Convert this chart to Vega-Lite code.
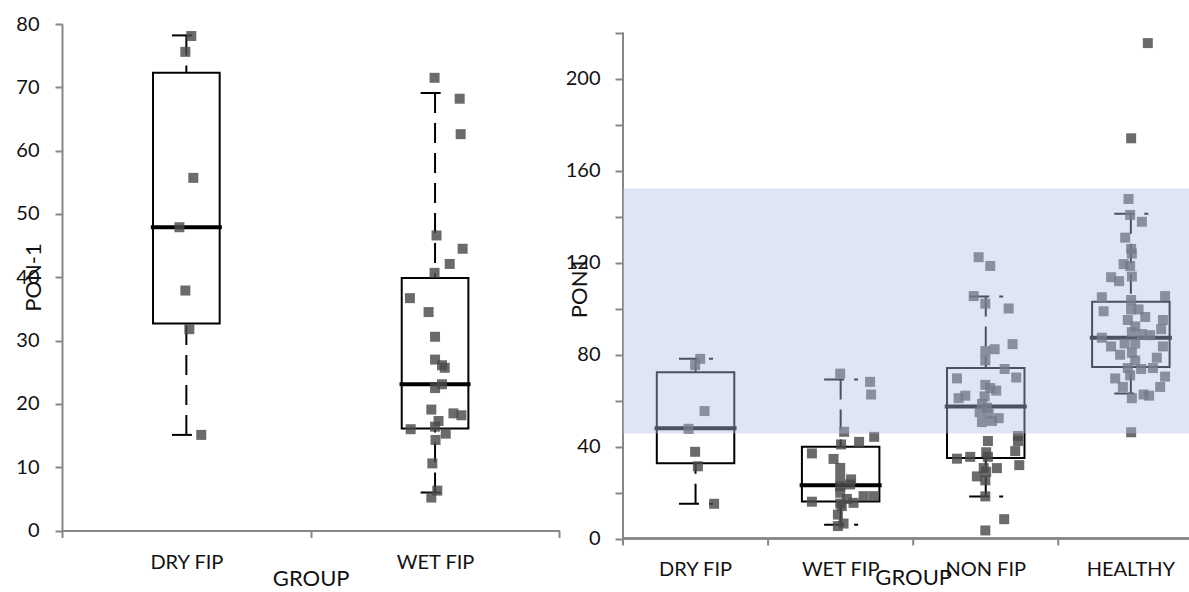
{
  "$schema": "https://vega.github.io/schema/vega-lite/v6.json",
  "padding": {"left": 15, "top": 14, "right": 0, "bottom": 0},
  "spacing": 5,
  "resolve": {"scale": {"x": "independent", "y": "independent", "xOffset": "independent"}},
  "config": {
    "font": "Lato",
    "view": {"stroke": null},
    "axis": {
      "labelFont": "Lato", "titleFont": "Lato",
      "labelFontSize": 20, "titleFontSize": 22,
      "labelColor": "#111111", "titleColor": "#111111",
      "titleFontWeight": "normal",
      "domainColor": "#878787", "tickColor": "#878787",
      "domainWidth": 2, "tickWidth": 2, "grid": false
    }
  },
  "datasets": {
    "boxes": [
      {"GROUP": "DRY FIP", "lower": 15.1, "q1": 32.7, "median": 47.9, "q3": 72.3, "upper": 78.2},
      {"GROUP": "WET FIP", "lower": 6.0, "q1": 16.1, "median": 23.1, "q3": 39.9, "upper": 69.1},
      {"GROUP": "NON FIP", "lower": 18.3, "q1": 35.0, "median": 57.4, "q3": 74.1, "upper": 105.2},
      {"GROUP": "HEALTHY", "lower": 63.0, "q1": 74.6, "median": 87.3, "q3": 102.9, "upper": 141.2}
    ],
    "refRange": [{"lower": 45.6, "upper": 152.2}],
    "pon1Fip": [
      {"GROUP": "DRY FIP", "PON": 78.1, "jit": 0.020},
      {"GROUP": "DRY FIP", "PON": 75.6, "jit": -0.004},
      {"GROUP": "DRY FIP", "PON": 55.7, "jit": 0.028},
      {"GROUP": "DRY FIP", "PON": 47.9, "jit": -0.028},
      {"GROUP": "DRY FIP", "PON": 37.9, "jit": -0.004},
      {"GROUP": "DRY FIP", "PON": 31.8, "jit": 0.012},
      {"GROUP": "DRY FIP", "PON": 15.1, "jit": 0.060},
      {"GROUP": "WET FIP", "PON": 71.5, "jit": -0.002},
      {"GROUP": "WET FIP", "PON": 68.2, "jit": 0.099},
      {"GROUP": "WET FIP", "PON": 62.6, "jit": 0.103},
      {"GROUP": "WET FIP", "PON": 46.6, "jit": 0.006},
      {"GROUP": "WET FIP", "PON": 44.5, "jit": 0.111},
      {"GROUP": "WET FIP", "PON": 42.1, "jit": 0.059},
      {"GROUP": "WET FIP", "PON": 40.7, "jit": -0.002},
      {"GROUP": "WET FIP", "PON": 36.7, "jit": -0.101},
      {"GROUP": "WET FIP", "PON": 34.5, "jit": -0.026},
      {"GROUP": "WET FIP", "PON": 30.6, "jit": 0.000},
      {"GROUP": "WET FIP", "PON": 27.0, "jit": 0.000},
      {"GROUP": "WET FIP", "PON": 26.1, "jit": 0.028},
      {"GROUP": "WET FIP", "PON": 25.7, "jit": 0.039},
      {"GROUP": "WET FIP", "PON": 23.1, "jit": 0.028},
      {"GROUP": "WET FIP", "PON": 22.5, "jit": 0.000},
      {"GROUP": "WET FIP", "PON": 19.1, "jit": -0.015},
      {"GROUP": "WET FIP", "PON": 18.5, "jit": 0.074},
      {"GROUP": "WET FIP", "PON": 18.2, "jit": 0.106},
      {"GROUP": "WET FIP", "PON": 17.3, "jit": 0.014},
      {"GROUP": "WET FIP", "PON": 16.0, "jit": -0.098},
      {"GROUP": "WET FIP", "PON": 16.4, "jit": 0.000},
      {"GROUP": "WET FIP", "PON": 15.3, "jit": 0.043},
      {"GROUP": "WET FIP", "PON": 14.3, "jit": 0.002},
      {"GROUP": "WET FIP", "PON": 10.6, "jit": -0.011},
      {"GROUP": "WET FIP", "PON": 6.3, "jit": 0.009},
      {"GROUP": "WET FIP", "PON": 5.2, "jit": -0.015}
    ],
    "pon1All": [
      {"GROUP": "DRY FIP", "PON": 78.1, "jit": 0.032},
      {"GROUP": "DRY FIP", "PON": 75.4, "jit": -0.003},
      {"GROUP": "DRY FIP", "PON": 55.4, "jit": 0.062},
      {"GROUP": "DRY FIP", "PON": 47.7, "jit": -0.048},
      {"GROUP": "DRY FIP", "PON": 37.7, "jit": -0.003},
      {"GROUP": "DRY FIP", "PON": 31.4, "jit": 0.016},
      {"GROUP": "DRY FIP", "PON": 15.1, "jit": 0.128},
      {"GROUP": "WET FIP", "PON": 71.7, "jit": -0.003},
      {"GROUP": "WET FIP", "PON": 68.1, "jit": 0.203},
      {"GROUP": "WET FIP", "PON": 62.6, "jit": 0.210},
      {"GROUP": "WET FIP", "PON": 46.4, "jit": 0.024},
      {"GROUP": "WET FIP", "PON": 44.2, "jit": 0.231},
      {"GROUP": "WET FIP", "PON": 42.0, "jit": 0.127},
      {"GROUP": "WET FIP", "PON": 40.9, "jit": 0.003},
      {"GROUP": "WET FIP", "PON": 37.0, "jit": -0.198},
      {"GROUP": "WET FIP", "PON": 34.6, "jit": -0.049},
      {"GROUP": "WET FIP", "PON": 30.7, "jit": -0.003},
      {"GROUP": "WET FIP", "PON": 26.4, "jit": -0.003},
      {"GROUP": "WET FIP", "PON": 25.7, "jit": 0.072},
      {"GROUP": "WET FIP", "PON": 23.5, "jit": 0.065},
      {"GROUP": "WET FIP", "PON": 22.7, "jit": -0.003},
      {"GROUP": "WET FIP", "PON": 19.9, "jit": -0.003},
      {"GROUP": "WET FIP", "PON": 18.4, "jit": 0.158},
      {"GROUP": "WET FIP", "PON": 18.4, "jit": 0.227},
      {"GROUP": "WET FIP", "PON": 17.2, "jit": 0.043},
      {"GROUP": "WET FIP", "PON": 16.0, "jit": -0.198},
      {"GROUP": "WET FIP", "PON": 15.5, "jit": 0.089},
      {"GROUP": "WET FIP", "PON": 15.2, "jit": -0.003},
      {"GROUP": "WET FIP", "PON": 14.1, "jit": 0.008},
      {"GROUP": "WET FIP", "PON": 10.4, "jit": -0.019},
      {"GROUP": "WET FIP", "PON": 6.5, "jit": 0.020},
      {"GROUP": "WET FIP", "PON": 5.4, "jit": -0.019},
      {"GROUP": "NON FIP", "PON": 122.3, "jit": -0.049},
      {"GROUP": "NON FIP", "PON": 118.5, "jit": 0.031},
      {"GROUP": "NON FIP", "PON": 105.4, "jit": -0.083},
      {"GROUP": "NON FIP", "PON": 102.1, "jit": -0.003},
      {"GROUP": "NON FIP", "PON": 100.0, "jit": 0.158},
      {"GROUP": "NON FIP", "PON": 84.5, "jit": 0.185},
      {"GROUP": "NON FIP", "PON": 82.3, "jit": 0.061},
      {"GROUP": "NON FIP", "PON": 81.5, "jit": -0.003},
      {"GROUP": "NON FIP", "PON": 77.4, "jit": -0.003},
      {"GROUP": "NON FIP", "PON": 73.7, "jit": 0.130},
      {"GROUP": "NON FIP", "PON": 70.0, "jit": 0.210},
      {"GROUP": "NON FIP", "PON": 69.6, "jit": -0.198},
      {"GROUP": "NON FIP", "PON": 66.8, "jit": -0.003},
      {"GROUP": "NON FIP", "PON": 65.4, "jit": 0.031},
      {"GROUP": "NON FIP", "PON": 64.3, "jit": 0.072},
      {"GROUP": "NON FIP", "PON": 62.1, "jit": -0.141},
      {"GROUP": "NON FIP", "PON": 61.8, "jit": -0.008},
      {"GROUP": "NON FIP", "PON": 61.0, "jit": -0.187},
      {"GROUP": "NON FIP", "PON": 58.5, "jit": -0.026},
      {"GROUP": "NON FIP", "PON": 56.9, "jit": 0.008},
      {"GROUP": "NON FIP", "PON": 54.9, "jit": -0.042},
      {"GROUP": "NON FIP", "PON": 54.4, "jit": 0.020},
      {"GROUP": "NON FIP", "PON": 52.3, "jit": 0.089},
      {"GROUP": "NON FIP", "PON": 51.1, "jit": 0.043},
      {"GROUP": "NON FIP", "PON": 50.6, "jit": -0.026},
      {"GROUP": "NON FIP", "PON": 44.6, "jit": 0.222},
      {"GROUP": "NON FIP", "PON": 42.4, "jit": 0.015},
      {"GROUP": "NON FIP", "PON": 42.4, "jit": 0.222},
      {"GROUP": "NON FIP", "PON": 38.0, "jit": 0.203},
      {"GROUP": "NON FIP", "PON": 37.5, "jit": 0.003},
      {"GROUP": "NON FIP", "PON": 35.5, "jit": 0.015},
      {"GROUP": "NON FIP", "PON": 35.5, "jit": -0.107},
      {"GROUP": "NON FIP", "PON": 34.7, "jit": -0.198},
      {"GROUP": "NON FIP", "PON": 31.9, "jit": 0.231},
      {"GROUP": "NON FIP", "PON": 30.6, "jit": -0.014},
      {"GROUP": "NON FIP", "PON": 30.6, "jit": 0.077},
      {"GROUP": "NON FIP", "PON": 29.0, "jit": 0.003},
      {"GROUP": "NON FIP", "PON": 27.0, "jit": -0.061},
      {"GROUP": "NON FIP", "PON": 25.3, "jit": -0.003},
      {"GROUP": "NON FIP", "PON": 18.3, "jit": -0.003},
      {"GROUP": "NON FIP", "PON": 8.4, "jit": 0.127},
      {"GROUP": "NON FIP", "PON": 3.5, "jit": -0.003},
      {"GROUP": "HEALTHY", "PON": 215.4, "jit": 0.117},
      {"GROUP": "HEALTHY", "PON": 174.0, "jit": 0.002},
      {"GROUP": "HEALTHY", "PON": 147.6, "jit": -0.016},
      {"GROUP": "HEALTHY", "PON": 140.7, "jit": -0.005},
      {"GROUP": "HEALTHY", "PON": 137.7, "jit": 0.076},
      {"GROUP": "HEALTHY", "PON": 130.8, "jit": -0.039},
      {"GROUP": "HEALTHY", "PON": 125.9, "jit": 0.002},
      {"GROUP": "HEALTHY", "PON": 123.9, "jit": 0.007},
      {"GROUP": "HEALTHY", "PON": 119.3, "jit": -0.050},
      {"GROUP": "HEALTHY", "PON": 118.5, "jit": -0.005},
      {"GROUP": "HEALTHY", "PON": 113.9, "jit": 0.007},
      {"GROUP": "HEALTHY", "PON": 113.6, "jit": -0.136},
      {"GROUP": "HEALTHY", "PON": 111.9, "jit": -0.081},
      {"GROUP": "HEALTHY", "PON": 105.4, "jit": 0.236},
      {"GROUP": "HEALTHY", "PON": 104.9, "jit": -0.200},
      {"GROUP": "HEALTHY", "PON": 103.7, "jit": 0.002},
      {"GROUP": "HEALTHY", "PON": 99.6, "jit": 0.002},
      {"GROUP": "HEALTHY", "PON": 99.6, "jit": 0.053},
      {"GROUP": "HEALTHY", "PON": 98.8, "jit": -0.188},
      {"GROUP": "HEALTHY", "PON": 96.3, "jit": 0.099},
      {"GROUP": "HEALTHY", "PON": 95.0, "jit": -0.021},
      {"GROUP": "HEALTHY", "PON": 95.0, "jit": 0.221},
      {"GROUP": "HEALTHY", "PON": 92.2, "jit": 0.030},
      {"GROUP": "HEALTHY", "PON": 91.0, "jit": 0.209},
      {"GROUP": "HEALTHY", "PON": 89.7, "jit": 0.007},
      {"GROUP": "HEALTHY", "PON": 88.9, "jit": 0.076},
      {"GROUP": "HEALTHY", "PON": 88.4, "jit": 0.133},
      {"GROUP": "HEALTHY", "PON": 87.3, "jit": -0.200},
      {"GROUP": "HEALTHY", "PON": 84.8, "jit": -0.043},
      {"GROUP": "HEALTHY", "PON": 84.8, "jit": 0.030},
      {"GROUP": "HEALTHY", "PON": 83.5, "jit": -0.136},
      {"GROUP": "HEALTHY", "PON": 83.5, "jit": 0.221},
      {"GROUP": "HEALTHY", "PON": 80.7, "jit": 0.007},
      {"GROUP": "HEALTHY", "PON": 79.9, "jit": -0.074},
      {"GROUP": "HEALTHY", "PON": 78.6, "jit": 0.179},
      {"GROUP": "HEALTHY", "PON": 77.4, "jit": 0.030},
      {"GROUP": "HEALTHY", "PON": 74.1, "jit": -0.021},
      {"GROUP": "HEALTHY", "PON": 74.1, "jit": 0.152},
      {"GROUP": "HEALTHY", "PON": 73.7, "jit": 0.071},
      {"GROUP": "HEALTHY", "PON": 70.9, "jit": -0.005},
      {"GROUP": "HEALTHY", "PON": 70.4, "jit": 0.236},
      {"GROUP": "HEALTHY", "PON": 69.6, "jit": -0.108},
      {"GROUP": "HEALTHY", "PON": 65.9, "jit": -0.055},
      {"GROUP": "HEALTHY", "PON": 65.9, "jit": 0.202},
      {"GROUP": "HEALTHY", "PON": 62.6, "jit": 0.088},
      {"GROUP": "HEALTHY", "PON": 62.1, "jit": 0.126},
      {"GROUP": "HEALTHY", "PON": 61.0, "jit": 0.007},
      {"GROUP": "HEALTHY", "PON": 46.2, "jit": 0.002}
    ]
  },
  "hconcat": [
    {
      "width": 497.4,
      "height": 506.5,
      "layer": [
        {
          "data": {"name": "boxes"},
          "transform": [{"filter": {"field": "GROUP", "oneOf": ["DRY FIP", "WET FIP"]}}],
          "mark": {"type": "rule", "color": "black", "strokeWidth": 2, "strokeDash": [20, 10]},
          "encoding": {
            "x": {"field": "GROUP", "type": "nominal", "title": "GROUP",
                  "scale": {"domain": ["DRY FIP", "WET FIP"], "paddingInner": 0, "paddingOuter": 0},
                  "axis": {"labelAngle": 0, "tickSize": 7, "tickBand": "extent", "labelPadding": 25,
                           "labelBaseline": "middle", "titleY": 48, "titleBaseline": "middle"}},
            "y": {"field": "upper", "type": "quantitative", "title": "PON-1",
                  "scale": {"domain": [0, 80], "nice": false},
                  "axis": {"values": [0, 10, 20, 30, 40, 50, 60, 70, 80], "tickSize": 7, "labelPadding": 16,
                           "titleX": -29, "titleY": 253, "titleAngle": -90,
                           "titleBaseline": "middle", "titleAlign": "center"}},
            "y2": {"field": "q3"}
          }
        },
        {
          "data": {"name": "boxes"},
          "transform": [{"filter": {"field": "GROUP", "oneOf": ["DRY FIP", "WET FIP"]}}],
          "mark": {"type": "rule", "color": "black", "strokeWidth": 2, "strokeDash": [20, 10]},
          "encoding": {
            "x": {"field": "GROUP", "type": "nominal", "title": "GROUP",
                  "scale": {"domain": ["DRY FIP", "WET FIP"], "paddingInner": 0, "paddingOuter": 0}},
            "y": {"field": "lower", "type": "quantitative", "title": "PON-1"},
            "y2": {"field": "q1"}
          }
        },
        {
          "data": {"name": "boxes"},
          "transform": [{"filter": {"field": "GROUP", "oneOf": ["DRY FIP", "WET FIP"]}}],
          "mark": {"type": "rule", "color": "black", "strokeWidth": 2, "strokeDash": [20, 10]},
          "encoding": {
            "x": {"field": "GROUP", "type": "nominal", "title": "GROUP", "bandPosition": 0.442,
                  "scale": {"domain": ["DRY FIP", "WET FIP"], "paddingInner": 0, "paddingOuter": 0}},
            "x2": {"field": "GROUP", "bandPosition": 0.555},
            "y": {"field": "upper", "type": "quantitative", "title": "PON-1"}
          }
        },
        {
          "data": {"name": "boxes"},
          "transform": [{"filter": {"field": "GROUP", "oneOf": ["DRY FIP", "WET FIP"]}}],
          "mark": {"type": "rule", "color": "black", "strokeWidth": 2, "strokeDash": [20, 10]},
          "encoding": {
            "x": {"field": "GROUP", "type": "nominal", "title": "GROUP", "bandPosition": 0.442,
                  "scale": {"domain": ["DRY FIP", "WET FIP"], "paddingInner": 0, "paddingOuter": 0}},
            "x2": {"field": "GROUP", "bandPosition": 0.555},
            "y": {"field": "lower", "type": "quantitative", "title": "PON-1"}
          }
        },
        {
          "data": {"name": "boxes"},
          "transform": [{"filter": {"field": "GROUP", "oneOf": ["DRY FIP", "WET FIP"]}}],
          "mark": {"type": "rect", "fill": "white", "fillOpacity": 0, "stroke": "black", "strokeWidth": 2},
          "encoding": {
            "x": {"field": "GROUP", "type": "nominal", "title": "GROUP", "bandPosition": 0.366,
                  "scale": {"domain": ["DRY FIP", "WET FIP"], "paddingInner": 0, "paddingOuter": 0}},
            "x2": {"field": "GROUP", "bandPosition": 0.634},
            "y": {"field": "q1", "type": "quantitative", "title": "PON-1"},
            "y2": {"field": "q3"}
          }
        },
        {
          "data": {"name": "boxes"},
          "transform": [{"filter": {"field": "GROUP", "oneOf": ["DRY FIP", "WET FIP"]}}],
          "mark": {"type": "tick", "color": "black", "size": 71, "thickness": 4, "opacity": 1},
          "encoding": {
            "x": {"field": "GROUP", "type": "nominal", "title": "GROUP",
                  "scale": {"domain": ["DRY FIP", "WET FIP"], "paddingInner": 0, "paddingOuter": 0}},
            "y": {"field": "median", "type": "quantitative", "title": "PON-1"}
          }
        },
        {
          "data": {"name": "pon1Fip"},
          "mark": {"type": "point", "shape": "square", "filled": true, "size": 100,
                   "color": "#4a4a4a", "opacity": 0.82, "strokeWidth": 0},
          "encoding": {
            "x": {"field": "GROUP", "type": "nominal", "title": "GROUP",
                  "scale": {"domain": ["DRY FIP", "WET FIP"], "paddingInner": 0, "paddingOuter": 0}},
            "xOffset": {"field": "jit", "type": "quantitative", "scale": {"domain": [-0.5, 0.5], "range": [0, 248.7]}},
            "y": {"field": "PON", "type": "quantitative", "title": "PON-1"}
          }
        }
      ]
    },
    {
      "width": 568,
      "height": 514.5,
      "layer": [
        {
          "data": {"name": "boxes"},
          "mark": {"type": "rule", "color": "#878787", "strokeWidth": 2},
          "encoding": {
            "y": {"datum": 0, "type": "quantitative", "title": "PON1",
                  "scale": {"domain": [0, 223.7], "nice": false},
                  "axis": {"values": [0, 20, 40, 60, 80, 100, 120, 140, 160, 180, 200, 220],
                           "labelExpr": "datum.value % 40 == 0 ? datum.label : ''",
                           "domain": false, "tickSize": 8, "labelPadding": 15,
                           "titleX": -44, "titleY": 263.5, "titleAngle": -90,
                           "titleBaseline": "middle", "titleAlign": "center"}}
          }
        },
        {
          "data": {"name": "boxes"},
          "mark": {"type": "rule", "color": "black", "strokeWidth": 2, "strokeDash": [20, 10]},
          "encoding": {
            "x": {"field": "GROUP", "type": "nominal", "title": "GROUP",
                  "scale": {"domain": ["DRY FIP", "WET FIP", "NON FIP", "HEALTHY"], "range": [0, 580.4], "paddingInner": 0, "paddingOuter": 0},
                  "axis": {"labelAngle": 0, "bandPosition": 0.5, "domain": false, "ticks": false, "tickSize": 0, "labelPadding": 31,
                           "labelBaseline": "middle", "titleY": 39, "titleBaseline": "middle"}},
            "y": {"field": "upper", "type": "quantitative", "title": "PON1"},
            "y2": {"field": "q3"}
          }
        },
        {
          "data": {"name": "boxes"},
          "transform": [{"filter": {"field": "GROUP", "equal": "DRY FIP"}}],
          "mark": {"type": "rule", "color": "#878787", "strokeWidth": 2},
          "encoding": {
            "x": {"field": "GROUP", "type": "nominal", "title": "GROUP", "bandPosition": 0,
                  "scale": {"domain": ["DRY FIP", "WET FIP", "NON FIP", "HEALTHY"], "range": [0, 580.4], "paddingInner": 0, "paddingOuter": 0}},
            "y": {"datum": 0, "type": "quantitative", "title": "PON1"},
            "y2": {"datum": 220}
          }
        },
        {
          "data": {"name": "boxes"},
          "mark": {"type": "rule", "color": "#878787", "strokeWidth": 2},
          "encoding": {
            "x": {"field": "GROUP", "type": "nominal", "title": "GROUP", "bandPosition": 0,
                  "scale": {"domain": ["DRY FIP", "WET FIP", "NON FIP", "HEALTHY"], "range": [0, 580.4], "paddingInner": 0, "paddingOuter": 0}},
            "y": {"datum": 0, "type": "quantitative", "title": "PON1"},
            "y2": {"datum": -3.04}
          }
        },
        {
          "data": {"name": "boxes"},
          "mark": {"type": "rule", "color": "black", "strokeWidth": 2, "strokeDash": [20, 10]},
          "encoding": {
            "x": {"field": "GROUP", "type": "nominal", "title": "GROUP",
                  "scale": {"domain": ["DRY FIP", "WET FIP", "NON FIP", "HEALTHY"], "range": [0, 580.4], "paddingInner": 0, "paddingOuter": 0}},
            "y": {"field": "lower", "type": "quantitative", "title": "PON1"},
            "y2": {"field": "q1"}
          }
        },
        {
          "data": {"name": "boxes"},
          "mark": {"type": "rule", "color": "black", "strokeWidth": 2, "strokeDash": [20, 10]},
          "encoding": {
            "x": {"field": "GROUP", "type": "nominal", "title": "GROUP", "bandPosition": 0.386,
                  "scale": {"domain": ["DRY FIP", "WET FIP", "NON FIP", "HEALTHY"], "range": [0, 580.4], "paddingInner": 0, "paddingOuter": 0}},
            "x2": {"field": "GROUP", "bandPosition": 0.62},
            "y": {"field": "upper", "type": "quantitative", "title": "PON1"}
          }
        },
        {
          "data": {"name": "boxes"},
          "mark": {"type": "rule", "color": "black", "strokeWidth": 2, "strokeDash": [20, 10]},
          "encoding": {
            "x": {"field": "GROUP", "type": "nominal", "title": "GROUP", "bandPosition": 0.386,
                  "scale": {"domain": ["DRY FIP", "WET FIP", "NON FIP", "HEALTHY"], "range": [0, 580.4], "paddingInner": 0, "paddingOuter": 0}},
            "x2": {"field": "GROUP", "bandPosition": 0.62},
            "y": {"field": "lower", "type": "quantitative", "title": "PON1"}
          }
        },
        {
          "data": {"name": "boxes"},
          "mark": {"type": "rect", "fill": "white", "fillOpacity": 0, "stroke": "black", "strokeWidth": 2},
          "encoding": {
            "x": {"field": "GROUP", "type": "nominal", "title": "GROUP", "bandPosition": 0.233,
                  "scale": {"domain": ["DRY FIP", "WET FIP", "NON FIP", "HEALTHY"], "range": [0, 580.4], "paddingInner": 0, "paddingOuter": 0}},
            "x2": {"field": "GROUP", "bandPosition": 0.767},
            "y": {"field": "q1", "type": "quantitative", "title": "PON1"},
            "y2": {"field": "q3"}
          }
        },
        {
          "data": {"name": "boxes"},
          "mark": {"type": "tick", "color": "black", "size": 82, "thickness": 4, "opacity": 1},
          "encoding": {
            "x": {"field": "GROUP", "type": "nominal", "title": "GROUP",
                  "scale": {"domain": ["DRY FIP", "WET FIP", "NON FIP", "HEALTHY"], "range": [0, 580.4], "paddingInner": 0, "paddingOuter": 0}},
            "y": {"field": "median", "type": "quantitative", "title": "PON1"}
          }
        },
        {
          "data": {"name": "pon1All"},
          "mark": {"type": "point", "shape": "square", "filled": true, "size": 100,
                   "color": "#4a4a4a", "opacity": 0.82, "strokeWidth": 0},
          "encoding": {
            "x": {"field": "GROUP", "type": "nominal", "title": "GROUP",
                  "scale": {"domain": ["DRY FIP", "WET FIP", "NON FIP", "HEALTHY"], "range": [0, 580.4], "paddingInner": 0, "paddingOuter": 0}},
            "xOffset": {"field": "jit", "type": "quantitative", "scale": {"domain": [-0.5, 0.5], "range": [0, 145.1]}},
            "y": {"field": "PON", "type": "quantitative", "title": "PON1"}
          }
        },
        {
          "data": {"name": "refRange"},
          "mark": {"type": "rect", "color": "#b2c0e2", "opacity": 0.42},
          "encoding": {
            "y": {"field": "lower", "type": "quantitative", "title": "PON1"},
            "y2": {"field": "upper"}
          }
        }
      ]
    }
  ]
}
